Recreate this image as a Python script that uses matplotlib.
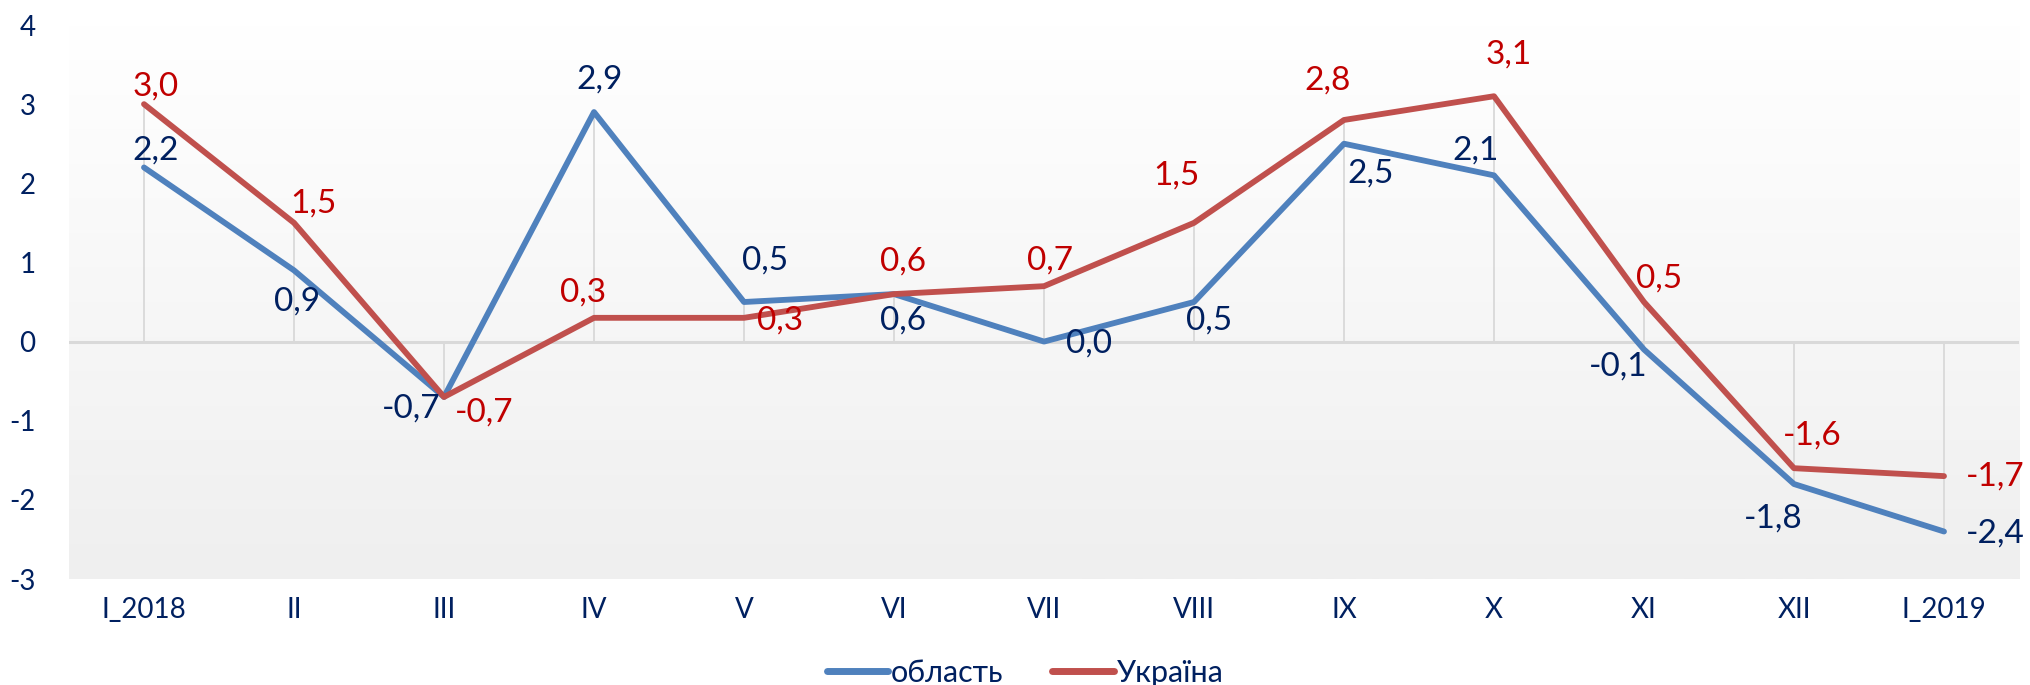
import numpy as np
import matplotlib
matplotlib.use('Agg')
import matplotlib.pyplot as plt
from matplotlib.colors import LinearSegmentedColormap

plt.rcParams['font.family'] = ['Lato', 'Noto Sans', 'DejaVu Sans']
plt.rcParams['axes.unicode_minus'] = False

# Дані
months = ['I_2018', 'II', 'III', 'IV', 'V', 'VI', 'VII', 'VIII', 'IX', 'X', 'XI', 'XII', 'I_2019']
oblast = [2.2, 0.9, -0.7, 2.9, 0.5, 0.6, 0.0, 0.5, 2.5, 2.1, -0.1, -1.8, -2.4]
ukraina = [3.0, 1.5, -0.7, 0.3, 0.3, 0.6, 0.7, 1.5, 2.8, 3.1, 0.5, -1.6, -1.7]

# зміщення підписів (в одиницях осей)
blue_dx = [0.08, 0.02, -0.22, 0.04, 0.14, 0.06, 0.30, 0.10, 0.18, -0.12, -0.17, -0.14, 0.34]
blue_dy = [0.22, -0.40, -0.14, 0.41, 0.52, -0.33, -0.03, -0.23, -0.38, 0.31, -0.21, -0.43, -0.02]
red_dx = [0.08, 0.13, 0.27, -0.07, 0.24, 0.06, 0.04, -0.12, -0.11, 0.10, 0.10, 0.12, 0.34]
red_dy = [0.22, 0.25, -0.20, 0.32, -0.03, 0.41, 0.32, 0.60, 0.50, 0.53, 0.30, 0.41, -0.01]

navy = '#002060'
blue = '#4F81BD'
red = '#C0504D'
dark_red = '#C00000'

fig = plt.figure(figsize=(20.3, 6.85), dpi=100)
ax = fig.add_axes([69 / 2030, 1 - 579 / 685, 1950 / 2030, 554 / 685])

x = np.arange(len(months))
ax.set_xlim(-0.5, len(months) - 0.5)
ax.set_ylim(-3, 4)

# фон з градієнтом
cmap = LinearSegmentedColormap.from_list('bg', ['#efefef', '#ffffff'])
grad = np.linspace(0, 1, 256).reshape(-1, 1)
ax.imshow(grad, extent=[-0.5, len(months) - 0.5, -3, 4], origin='lower',
          cmap=cmap, aspect='auto', zorder=0)

# вертикальні лінії до осі
lo = np.minimum(0, np.minimum(oblast, ukraina))
hi = np.maximum(0, np.maximum(oblast, ukraina))
ax.vlines(x, lo, hi, color='#d9d9d9', lw=1.3, zorder=1)
ax.axhline(0, color='#d9d9d9', lw=2.2, zorder=1)

ax.plot(x, oblast, color=blue, lw=4.2, solid_capstyle='round', solid_joinstyle='round',
        label='область', zorder=3)
ax.plot(x, ukraina, color=red, lw=4.2, solid_capstyle='round', solid_joinstyle='round',
        label='Україна', zorder=3)

for i in range(len(months)):
    ax.text(x[i] + blue_dx[i], oblast[i] + blue_dy[i], f'{oblast[i]:.1f}'.replace('.', ','),
            color=navy, fontsize=24, ha='center', va='center', zorder=4)
    ax.text(x[i] + red_dx[i], ukraina[i] + red_dy[i], f'{ukraina[i]:.1f}'.replace('.', ','),
            color=dark_red, fontsize=24, ha='center', va='center', zorder=4)

ax.set_xticks(x)
ax.set_xticklabels(months)
ax.set_yticks(range(-3, 5))
ax.tick_params(axis='both', length=0, labelsize=20, labelcolor=navy)
ax.tick_params(axis='x', pad=13)
ax.tick_params(axis='y', pad=24)
for s in ax.spines.values():
    s.set_visible(False)

leg = fig.legend(loc='center', bbox_to_anchor=(0.505, 12 / 685), ncol=2, frameon=False,
                 fontsize=22, handlelength=2.0, columnspacing=1.6, handletextpad=0.1)
for t in leg.get_texts():
    t.set_color(navy)
for h in leg.legend_handles:
    h.set_linewidth(5)

fig.savefig('out.png', dpi=100)
